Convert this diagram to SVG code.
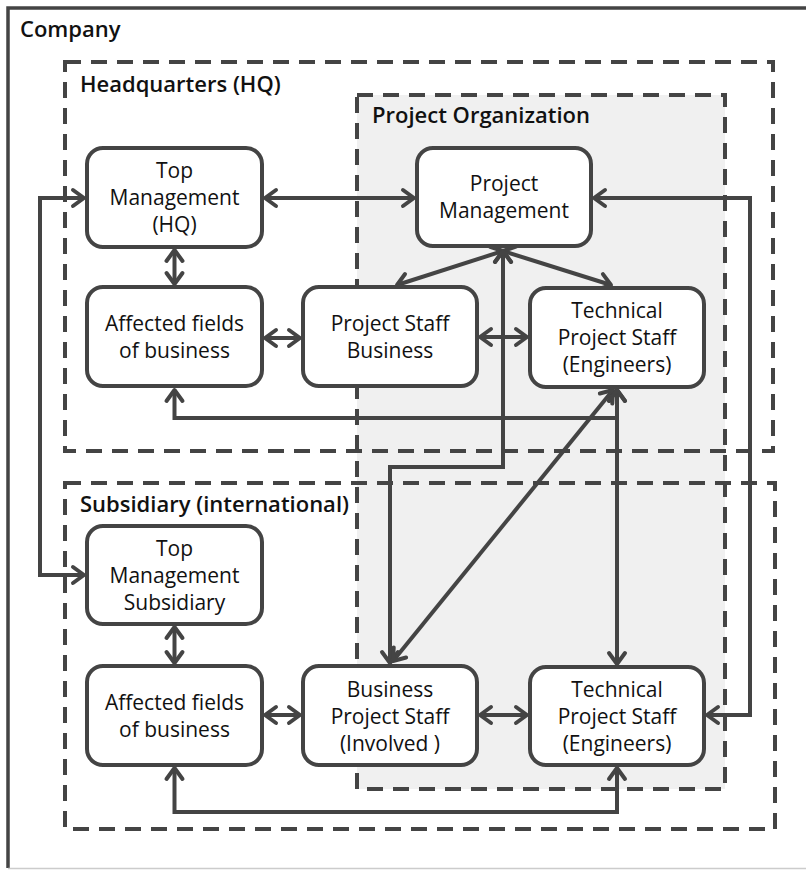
<svg xmlns="http://www.w3.org/2000/svg" width="806" height="870" viewBox="0 0 806 870">
<defs>
<style>
.frame{fill:none;stroke:#444;stroke-width:4;stroke-dasharray:16 10}
.node rect{fill:#fff;stroke:#444;stroke-width:4}
.node text{font-family:"Open Sans","Noto Sans",sans-serif;font-size:21px;fill:#111;text-anchor:middle}
.lbl{font-family:"Open Sans","Noto Sans",sans-serif;font-size:22px;font-weight:600;fill:#111}
.conn path{fill:none;stroke:#444;stroke-width:4;marker-start:url(#ah);marker-end:url(#ah)}
</style>
<marker id="ah" markerUnits="userSpaceOnUse" markerWidth="30" markerHeight="30" refX="0" refY="0" viewBox="-15 -15 30 30" orient="auto-start-reverse" overflow="visible">
<path d="M-11,-8 L0,0 L-11,8" fill="none" stroke="#444" stroke-width="4" stroke-linecap="round" stroke-linejoin="round"/>
</marker>
</defs>
<rect width="806" height="870" fill="#fff"/>
<g id="company">
<path d="M8,868 V8 H806" fill="none" stroke="#444" stroke-width="3.5"/>
<line x1="8" y1="868.5" x2="806" y2="868.5" stroke="#ccc" stroke-width="1.5"/>
<text class="lbl" x="20" y="37">Company</text>
</g>
<g id="project-organization">
<rect x="357" y="95" width="368" height="694" fill="#f0f0f0"/>
<rect class="frame" x="357" y="95" width="368" height="694"/>
<text class="lbl" x="372" y="123">Project Organization</text>
</g>
<g id="headquarters">
<rect class="frame" x="65" y="62" width="708" height="389"/>
<text class="lbl" x="80" y="92">Headquarters (HQ)</text>
</g>
<g id="subsidiary">
<rect class="frame" x="65" y="483" width="710" height="346"/>
<text class="lbl" x="80" y="512">Subsidiary (international)</text>
</g>
<g class="conn" id="connectors">
<path d="M265,198 H414"/>
<path d="M174.5,250 V284"/>
<path d="M265,338 H300"/>
<path d="M480,337 H527"/>
<path d="M503,251 L397,285"/>
<path d="M503,251 L611,285"/>
<path d="M503,251 V467 H390 V663"/>
<path d="M613,390 L393,661"/>
<path d="M174.5,390 V418 H617 V390"/>
<path d="M617,390 V664"/>
<path d="M84,198 H40 V575 H84"/>
<path d="M594,198 H750 V715 H707"/>
<path d="M174.5,627 V663"/>
<path d="M265,715 H300"/>
<path d="M480,715 H527"/>
<path d="M174.5,768 V812 H617 V768"/>
</g>
<g class="node" id="top-management-hq">
<rect x="87" y="148" width="175" height="99" rx="16"/>
<text x="174.5" y="178">Top</text><text x="174.5" y="205">Management</text><text x="174.5" y="232">(HQ)</text>
</g>
<g class="node" id="affected-fields-hq">
<rect x="87" y="287" width="175" height="99" rx="16"/>
<text x="174.5" y="331">Affected fields</text><text x="174.5" y="358">of business</text>
</g>
<g class="node" id="project-staff-business">
<rect x="303" y="287" width="174" height="99" rx="16"/>
<text x="390" y="331">Project Staff</text><text x="390" y="358">Business</text>
</g>
<g class="node" id="technical-project-staff-hq">
<rect x="530" y="288" width="174" height="99" rx="16"/>
<text x="617" y="318">Technical</text><text x="617" y="345">Project Staff</text><text x="617" y="372">(Engineers)</text>
</g>
<g class="node" id="project-management">
<rect x="417" y="148" width="174" height="98" rx="16"/>
<text x="504" y="191">Project</text><text x="504" y="218">Management</text>
</g>
<g class="node" id="top-management-subsidiary">
<rect x="87" y="526" width="175" height="98" rx="16"/>
<text x="174.5" y="556">Top</text><text x="174.5" y="583">Management</text><text x="174.5" y="610">Subsidiary</text>
</g>
<g class="node" id="affected-fields-subsidiary">
<rect x="87" y="666" width="175" height="99" rx="16"/>
<text x="174.5" y="710">Affected fields</text><text x="174.5" y="737">of business</text>
</g>
<g class="node" id="business-project-staff">
<rect x="303" y="666" width="174" height="99" rx="16"/>
<text x="390" y="697">Business</text><text x="390" y="724">Project Staff</text><text x="390" y="751">(Involved )</text>
</g>
<g class="node" id="technical-project-staff-subsidiary">
<rect x="530" y="667" width="174" height="98" rx="16"/>
<text x="617" y="697">Technical</text><text x="617" y="724">Project Staff</text><text x="617" y="751">(Engineers)</text>
</g>
</svg>
